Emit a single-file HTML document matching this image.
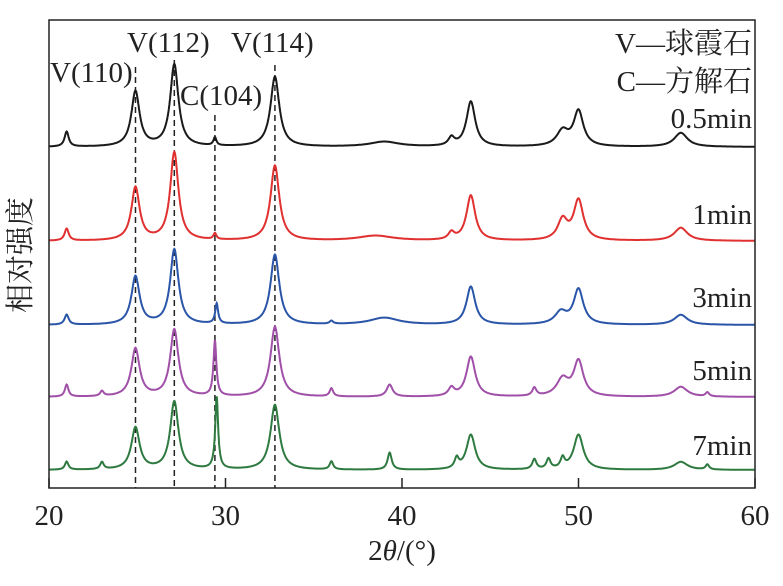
<!DOCTYPE html>
<html><head><meta charset="utf-8"><style>
body{margin:0;background:#fff}
svg text{font-family:"Liberation Serif","Noto Serif CJK SC",serif;fill:#222}
</style></head><body>
<svg id="c" width="783" height="581"></svg>
<script>
const seriesNames=["0.5min","1min","3min","5min","7min"];
const seriesColors=["#1a1a1a","#e03030","#2a55a8","#a050a8","#2e7a40"];
const baselines=[147,241,325,397,470];
const peakPos=[
[21.0,24.9,27.1,29.4,32.8,39.0,42.8,43.9,49.1,50.0,55.8],
[21.0,24.9,27.1,29.4,32.8,38.5,42.8,43.9,49.1,50.0,55.8],
[21.0,24.9,27.1,29.5,32.8,36.0,39.0,43.9,49.0,50.0,55.8],
[21.0,23.0,24.9,27.1,29.4,32.8,36.0,39.3,42.8,43.9,47.5,49.1,50.0,55.8,57.3],
[21.0,23.0,24.9,27.1,29.5,32.8,36.0,39.3,43.1,43.9,47.5,48.3,49.1,50.0,55.8,57.3]];
const peakHeights=[
[15,55,82,8,70,5,8,45,15,35,14],
[12,53,88,6,75,5,7,45,20,40,13],
[10,48,75,20,70,3,7,38,12,35,10],
[12,5,48,67,55,70,8,12,8,40,8,17,35,10,4],
[8,7,42,68,72,65,8,17,10,35,10,10,10,35,8,5]];
const peakWidths=[
[0.14,0.28,0.28,0.1,0.3,1.0,0.2,0.3,0.4,0.33,0.45],
[0.14,0.28,0.28,0.1,0.3,1.2,0.2,0.3,0.33,0.33,0.45],
[0.14,0.28,0.28,0.1,0.3,0.12,1.0,0.3,0.4,0.33,0.45],
[0.12,0.12,0.28,0.28,0.1,0.3,0.12,0.2,0.2,0.3,0.14,0.4,0.33,0.45,0.12],
[0.12,0.12,0.28,0.28,0.1,0.3,0.12,0.14,0.14,0.3,0.14,0.14,0.14,0.33,0.45,0.12]];
const xTicks=[20,30,40,50,60];
const refLines=[24.9,27.1,29.4,32.8];
const refTops=[67,60,115,65];

const L=49,R=755,T=20,B=488;
const sx=v=>L+(v-20)/40*(R-L);
const NS="http://www.w3.org/2000/svg";
const svg=document.getElementById('c');
function mk(t,a,p){const e=document.createElementNS(NS,t);for(const k in a)e.setAttribute(k,a[k]);(p||svg).appendChild(e);return e;}

refLines.forEach((v,i)=>{
 const ln=mk('line',{x1:sx(v),x2:sx(v),y1:refTops[i],y2:B,stroke:'#222','stroke-width':1.5,'stroke-dasharray':'6,4'});
 
 
});

seriesNames.forEach((n,s)=>{
 let d='';
 for(let x=20;x<=60.001;x+=0.02){
  let y=0;
  peakPos[s].forEach((p,j)=>{const w=peakWidths[s][j];y+=peakHeights[s][j]/(1+((x-p)/w)**2);});
  d+=(d?'L':'M')+sx(x).toFixed(1)+','+(baselines[s]-y).toFixed(1);
 }
 const pth=mk('path',{d:d,fill:'none',stroke:seriesColors[s],'stroke-width':2});
 
 
});

const ax=mk('path',{d:`M${L},${T}V${B}H${R}V${T}Z`,fill:'none',stroke:'#222','stroke-width':1.5});


xTicks.forEach(v=>{
 const tk=mk('line',{x1:sx(v),x2:sx(v),y1:B,y2:B-10,stroke:'#222','stroke-width':1.5});
 
 
 const tl=mk('text',{x:sx(v),y:525,'text-anchor':'middle','font-size':29});
 tl.textContent=v;
 
 
});

function txt(s,x,y,anchor,name,size){const t=mk('text',{x:x,y:y,'text-anchor':anchor||'start','font-size':size||29});t.textContent=s;return t;}
txt('V(110)',50,82,'start','label-v110');
txt('V(112)',127,52,'start','label-v112');
txt('V(114)',231,52,'start','label-v114');
txt('C(104)',180,105,'start','label-c104');
txt('V—球霞石',752,53,'end','legend-vaterite');
txt('C—方解石',752,91,'end','legend-calcite');
const minY=[128,224,307,380,455];
const minX=[752,752,752,752,752];
seriesNames.forEach((n,i)=>txt(n,minX[i],minY[i],'end','series-label-'+n));
const xt=txt('',402,560,'middle','x-axis-title');
xt.innerHTML='2<tspan font-style="italic">θ</tspan>/(°)';
const yt=txt('相对强度',0,0,'middle','y-axis-title',29);
yt.setAttribute('transform','translate(30,255) rotate(-90)');
</script>
</body></html>
